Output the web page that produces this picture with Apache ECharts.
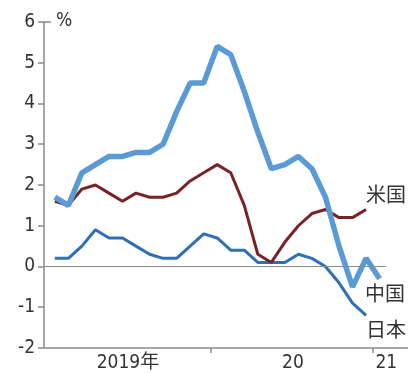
<!DOCTYPE html>
<html>
<head>
<meta charset="utf-8">
<script src="https://cdn.jsdelivr.net/npm/echarts@6/dist/echarts.min.js"></script>
<style>
    html, body { margin: 0; padding: 0; background: #fff; }
    #chart { width: 408px; height: 373px; }
</style>
</head>
<body>
<div id="chart"></div>
<script>
    // 2019年1月 ～ 2021年1月（月次）
    const months = ['2019-01', '2019-02', '2019-03', '2019-04', '2019-05', '2019-06', '2019-07', '2019-08', '2019-09', '2019-10', '2019-11', '2019-12',
        '2020-01', '2020-02', '2020-03', '2020-04', '2020-05', '2020-06', '2020-07', '2020-08', '2020-09', '2020-10', '2020-11', '2020-12', '2021-01'];
    const china = [1.7, 1.5, 2.3, 2.5, 2.7, 2.7, 2.8, 2.8, 3.0, 3.8, 4.5, 4.5, 5.4, 5.2, 4.3, 3.3, 2.4, 2.5, 2.7, 2.4, 1.7, 0.5, -0.5, 0.2, -0.3];
    const usa = [1.6, 1.5, 1.9, 2.0, 1.8, 1.6, 1.8, 1.7, 1.7, 1.8, 2.1, 2.3, 2.5, 2.3, 1.5, 0.3, 0.1, 0.6, 1.0, 1.3, 1.4, 1.2, 1.2, 1.4];
    const japan = [0.2, 0.2, 0.5, 0.9, 0.7, 0.7, 0.5, 0.3, 0.2, 0.2, 0.5, 0.8, 0.7, 0.4, 0.4, 0.1, 0.1, 0.1, 0.3, 0.2, 0.0, -0.4, -0.9, -1.2];
    const yTicks = [-2, -1, 0, 1, 2, 3, 4, 5, 6];
    // 年の区切り（月の間）と年ラベルの位置
    const yearTicks = [11.5, 23.5];
    const yearLabels = { 5.4: '2019年', 17.6: '20', 24.5: '21' };

    const font = '"DejaVu Sans Condensed", "Noto Sans CJK JP", sans-serif';
    const toPairs = arr => arr.map((v, i) => [i, v]);

    let myChart = echarts.init(document.getElementById('chart'));
    myChart.setOption({
        animation: false,
        grid: { left: 44, right: 0, top: 22, bottom: 25 },
        xAxis: {
            type: 'value',
            min: -0.8,
            max: 26.1,
            splitLine: { show: false },
            axisLine: { onZero: false, lineStyle: { color: '#8a8a8a', width: 1.5 } },
            axisTick: { customValues: yearTicks, length: 5, lineStyle: { color: '#8a8a8a', width: 1.5 } },
            axisLabel: {
                customValues: Object.keys(yearLabels).map(Number),
                formatter: v => yearLabels[v] || '',
                margin: 6,
                color: '#333',
                fontSize: 19,
                fontFamily: font
            }
        },
        yAxis: {
            type: 'value',
            min: -2,
            max: 6,
            interval: 1,
            splitLine: { show: false },
            axisLine: { show: true, onZero: false, lineStyle: { color: '#8a8a8a', width: 1.5 } },
            axisTick: { show: true, length: 6, lineStyle: { color: '#8a8a8a', width: 1.5 } },
            axisLabel: {
                margin: 9,
                color: '#333',
                fontSize: 19,
                fontFamily: font,
                formatter: v => yTicks.includes(v) ? String(v) : ''
            }
        },
        graphic: [
            { type: 'line', shape: { x1: 44, y1: 22, x2: 51, y2: 22 }, style: { stroke: '#8a8a8a', lineWidth: 1.5 } },
            { type: 'text', left: 56, top: 12, style: { text: '%', fill: '#333', font: '19px ' + font } },
            { type: 'text', left: 366, top: 184, style: { text: '米国', fill: '#333', font: '20px "Noto Sans CJK JP"' } },
            { type: 'text', left: 365, top: 283, style: { text: '中国', fill: '#333', font: '20px "Noto Sans CJK JP"' } },
            { type: 'text', left: 366, top: 319, style: { text: '日本', fill: '#333', font: '20px "Noto Sans CJK JP"' } }
        ],
        series: [
            {
                name: '日本',
                type: 'line',
                data: toPairs(japan),
                symbol: 'none',
                lineStyle: { color: '#2f6fb6', width: 3 },
                markLine: {
                    silent: true,
                    symbol: 'none',
                    label: { show: false },
                    lineStyle: { color: '#8a8a8a', width: 1.2, type: 'solid' },
                    data: [[{ coord: [-0.8, 0] }, { coord: [24.5, 0] }]]
                }
            },
            {
                name: '米国',
                type: 'line',
                data: toPairs(usa),
                symbol: 'none',
                lineStyle: { color: '#7a2326', width: 3 }
            },
            {
                name: '中国',
                type: 'line',
                data: toPairs(china),
                symbol: 'none',
                lineStyle: { color: '#5a9ad6', width: 5.5 }
            }
        ]
    });
</script>
</body>
</html>
